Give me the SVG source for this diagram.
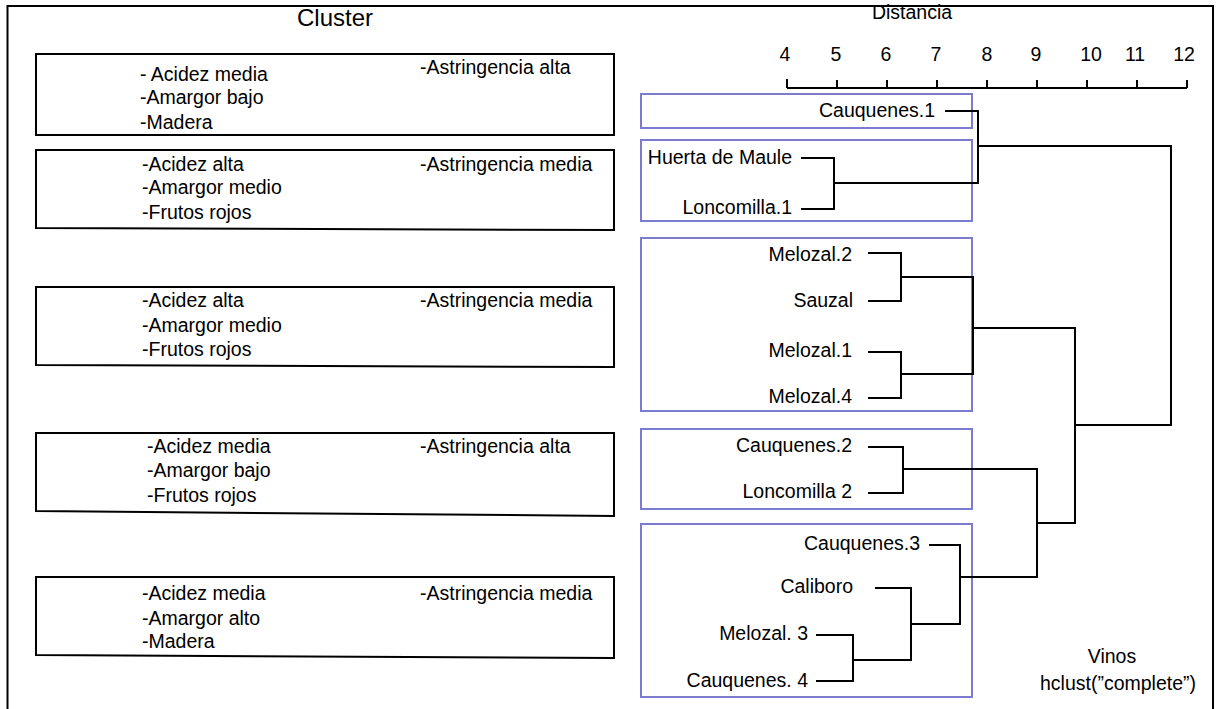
<svg xmlns="http://www.w3.org/2000/svg" width="1220" height="709" viewBox="0 0 1220 709">
<style>
text{font-family:"Liberation Sans",Arial,sans-serif;font-size:19.5px;fill:#000}
.box{fill:none;stroke:#000;stroke-width:2}
.grp{fill:none;stroke:#7b7bd0;stroke-width:2}
.ln{fill:none;stroke:#000;stroke-width:2;stroke-linejoin:miter;stroke-linecap:butt}
.lbl{text-anchor:end}
.num{text-anchor:middle}
</style>
<rect width="1220" height="709" fill="#fff"/>
<text x="335" y="26" style="font-size:24px" text-anchor="middle">Cluster</text>
<text x="912" y="19" text-anchor="middle">Distancia</text>
<rect x="7.5" y="6" width="1205.5" height="720" fill="none" stroke="#000" stroke-width="2"/>

<g id="cluster1">
<polygon class="box" points="36,54 614,54 614,135 36,135"/>
<text x="140" y="81">- Acidez media</text>
<text x="140" y="104">-Amargor bajo</text>
<text x="140" y="129">-Madera</text>
<text x="420" y="74">-Astringencia alta</text>
</g>
<g id="cluster2">
<polygon class="box" points="36,150 614,150 614,230 36,228"/>
<text x="142" y="171">-Acidez alta</text>
<text x="142" y="194">-Amargor medio</text>
<text x="142" y="219">-Frutos rojos</text>
<text x="420" y="171">-Astringencia media</text>
</g>
<g id="cluster3">
<polygon class="box" points="36,287 614,287 614,367 36,365"/>
<text x="142" y="307">-Acidez alta</text>
<text x="142" y="332">-Amargor medio</text>
<text x="142" y="356">-Frutos rojos</text>
<text x="420" y="307">-Astringencia media</text>
</g>
<g id="cluster4">
<polygon class="box" points="36,433 614,433 614,516 36,511"/>
<text x="147" y="453">-Acidez media</text>
<text x="147" y="477">-Amargor bajo</text>
<text x="147" y="502">-Frutos rojos</text>
<text x="420" y="453">-Astringencia alta</text>
</g>
<g id="cluster5">
<polygon class="box" points="36,577 614,577 614,658 36,655"/>
<text x="142" y="600">-Acidez media</text>
<text x="142" y="625">-Amargor alto</text>
<text x="142" y="648">-Madera</text>
<text x="420" y="600">-Astringencia media</text>
</g>

<g id="axis">
<path class="ln" d="M787,88H1187M787,79V88M837,80V88M887,80V88M937,80V88M987,80V88M1037,80V88M1087,80V88M1137,80V88M1187,80V88"/>
<text class="num" x="785" y="61">4</text>
<text class="num" x="836" y="61">5</text>
<text class="num" x="886" y="61">6</text>
<text class="num" x="936" y="61">7</text>
<text class="num" x="987" y="61">8</text>
<text class="num" x="1036" y="61">9</text>
<text class="num" x="1091" y="61">10</text>
<text class="num" x="1135" y="61">11</text>
<text class="num" x="1184" y="61">12</text>
</g>

<g id="groupA"><rect class="grp" x="641" y="94" width="331" height="34"/><text class="lbl" x="935" y="117">Cauquenes.1</text></g>
<g id="groupB"><rect class="grp" x="641" y="140" width="331" height="81"/>
<text class="lbl" x="792" y="164">Huerta de Maule</text>
<text class="lbl" x="792" y="214">Loncomilla.1</text></g>
<g id="groupC"><rect class="grp" x="641" y="238" width="331" height="173"/>
<text class="lbl" x="852" y="261">Melozal.2</text>
<text class="lbl" x="853" y="307">Sauzal</text>
<text class="lbl" x="852" y="357">Melozal.1</text>
<text class="lbl" x="852" y="403">Melozal.4</text></g>
<g id="groupD"><rect class="grp" x="641" y="429" width="331" height="80"/>
<text class="lbl" x="852" y="452">Cauquenes.2</text>
<text class="lbl" x="852" y="498">Loncomilla 2</text></g>
<g id="groupE"><rect class="grp" x="641" y="524" width="331" height="173"/>
<text class="lbl" x="920" y="550">Cauquenes.3</text>
<text class="lbl" x="853" y="593">Caliboro</text>
<text class="lbl" x="808" y="640">Melozal. 3</text>
<text class="lbl" x="808" y="687">Cauquenes. 4</text></g>

<g id="connectors">
<path class="ln" d="M945,111H978V183H834M801,158H834V209H801M978,146H1171V425H1075"/>
<path class="ln" d="M868,253H901V301H868M901,277H973M868,352H901V398H868M901,374H973M973,276V375M973,328H1075V523H1037"/>
<path class="ln" d="M868,447H903V493H868M903,469H1037V577H960M929,545H960V624H911M875,588H911V660H853M816,635H853V681H816"/>
</g>

<g id="caption">
<text x="1112" y="663" text-anchor="middle">Vinos</text>
<text x="1118" y="690" text-anchor="middle">hclust(”complete”)</text>
</g>
</svg>
